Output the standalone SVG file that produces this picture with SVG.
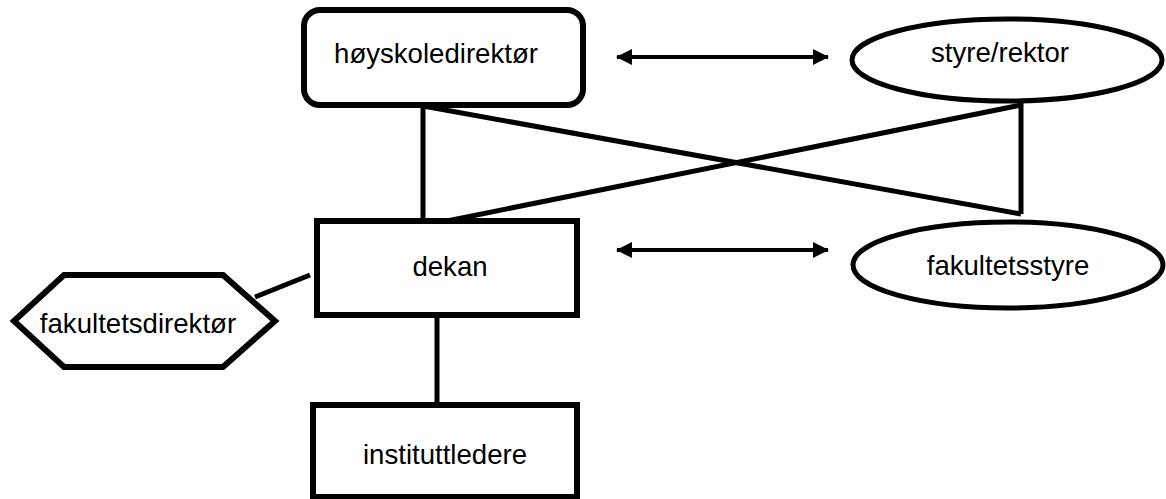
<svg xmlns="http://www.w3.org/2000/svg" width="1166" height="499" viewBox="0 0 1166 499">
<style>
.box{fill:#fff;stroke:#000;stroke-width:6}
.ell{fill:#fff;stroke:#000;stroke-width:5}
.lbl{font-family:"Liberation Sans",Arial,sans-serif;font-size:27.6px;fill:#000;text-anchor:middle}
.ln{stroke:#000;stroke-width:5;fill:none}
.arr{stroke:#000;stroke-width:4;fill:none;marker-start:url(#ah);marker-end:url(#ah)}
</style>
<defs>
<marker id="ah" markerUnits="userSpaceOnUse" markerWidth="16" markerHeight="18" refX="15" refY="9" orient="auto-start-reverse">
<path d="M0,1 L16,9 L0,17 Z" fill="#000"/>
</marker>
</defs>
<rect width="1166" height="499" fill="#fff"/>
<g id="connectors">
<line class="ln" x1="423" y1="105" x2="423" y2="221"/>
<line class="ln" x1="423" y1="106" x2="1021" y2="214"/>
<line class="ln" x1="447" y1="221" x2="1021" y2="105"/>
<line class="ln" x1="1021" y1="103" x2="1021" y2="214"/>
<line class="ln" x1="255" y1="297" x2="310" y2="275"/>
<line class="ln" x1="437" y1="318" x2="437" y2="404"/>
<line class="arr" x1="617" y1="57" x2="828" y2="57"/>
<line class="arr" x1="617" y1="250" x2="828" y2="250"/>
</g>
<g id="hoyskoledirektor">
<rect class="box" x="304" y="10" width="279" height="95" rx="16"/>
<text class="lbl" x="436" y="63">høyskoledirektør</text>
</g>
<g id="styre-rektor">
<ellipse class="ell" cx="1007" cy="60" rx="155" ry="41"/>
<text class="lbl" x="1000" y="62">styre/rektor</text>
</g>
<g id="dekan">
<rect class="box" x="317" y="221" width="260" height="94"/>
<text class="lbl" x="450" y="276">dekan</text>
</g>
<g id="fakultetsstyre">
<ellipse class="ell" cx="1008" cy="265" rx="155" ry="43"/>
<text class="lbl" x="1008" y="275">fakultetsstyre</text>
</g>
<g id="fakultetsdirektor">
<polygon class="box" points="14,321 64,275 223,275 275,321 223,367 64,367"/>
<text class="lbl" x="138" y="333">fakultetsdirektør</text>
</g>
<g id="instituttledere">
<rect class="box" x="313" y="405" width="264" height="92"/>
<text class="lbl" x="445" y="464">instituttledere</text>
</g>
</svg>
